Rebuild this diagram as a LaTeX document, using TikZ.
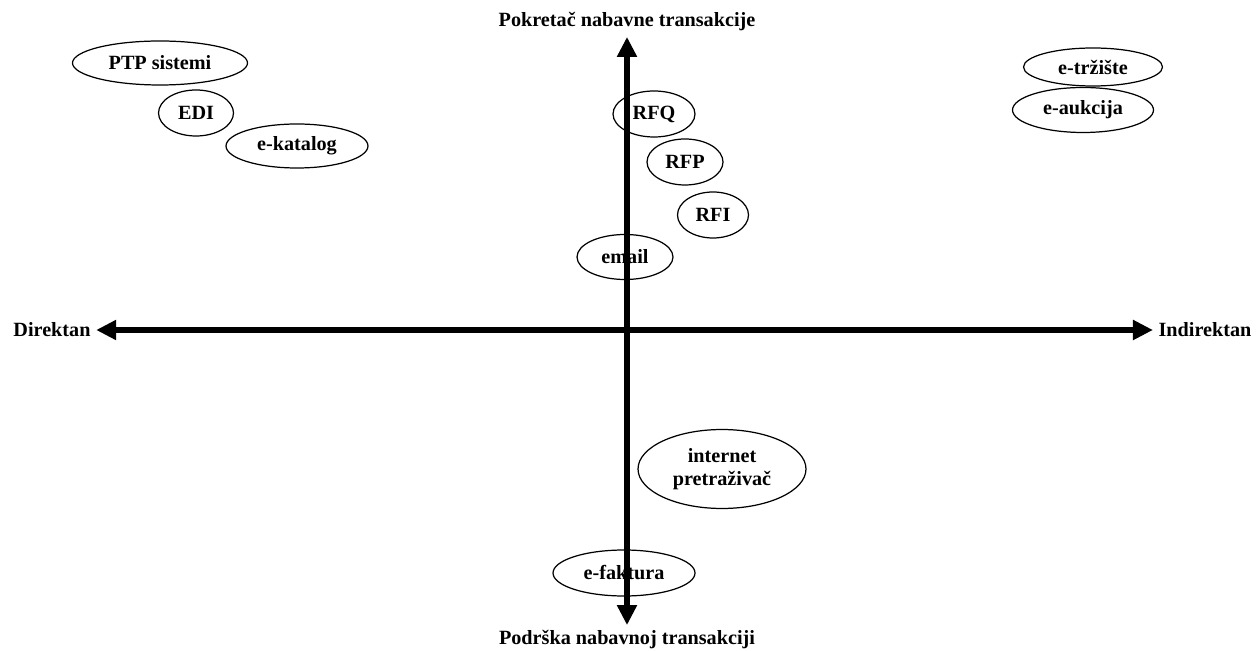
\documentclass[tikz,border=0pt]{standalone}
\usepackage{fontspec}
\setmainfont{Liberation Serif}
\usetikzlibrary{shapes.geometric,arrows.meta}

\begin{document}
\begin{tikzpicture}[x=0.02cm,y=-0.02cm,
  font=\fontsize{11.5}{13}\selectfont\bfseries,
  tool/.style={draw,ellipse,line width=0.7pt,inner sep=0pt,align=center},
  axis/.style={line width=3.4pt,{Triangle[length=0.4cm,width=0.38cm]}-{Triangle[length=0.4cm,width=0.38cm]}},
  lbl/.style={inner sep=3pt}]
  \useasboundingbox (0,0) rectangle (1257,651);

  % direktni alati
  \node[tool,minimum width=3.5cm,minimum height=0.88cm]  (ptp)  at (160,63)  {PTP sistemi};
  \node[tool,minimum width=1.5cm,minimum height=0.92cm]  (edi)  at (196,113) {EDI};
  \node[tool,minimum width=2.84cm,minimum height=0.88cm] (kat)  at (297,146) {e-katalog};
  % oko ose
  \node[tool,minimum width=1.64cm,minimum height=0.92cm] (rfq)  at (654,114) {RFQ};
  \node[tool,minimum width=1.52cm,minimum height=0.92cm] (rfp)  at (685,162) {RFP};
  \node[tool,minimum width=1.42cm,minimum height=0.92cm] (rfi)  at (713,215) {RFI};
  \node[tool,minimum width=1.92cm,minimum height=0.9cm]  (mail) at (625,257) {email};
  % indirektni alati
  \node[tool,minimum width=2.78cm,minimum height=0.76cm] (trz)  at (1093,67)  {e-tržište};
  \node[tool,minimum width=2.82cm,minimum height=0.9cm]  (auk)  at (1083,110) {e-aukcija};
  % podrska
  \node[tool,minimum width=3.36cm,minimum height=1.58cm] (net)  at (722,469) {internet\\pretraživač};
  \node[tool,minimum width=2.84cm,minimum height=0.92cm] (fak)  at (624,573) {e-faktura};

  % ose
  \node[lbl] (pok) at (627,22)  {Pokretač nabavne transakcije};
  \node[lbl] (pod) at (627,640) {Podrška nabavnoj transakciji};
  \node[lbl] (dir) at (52,330)  {Direktan};
  \node[lbl] (ind) at (1205,330) {Indirektan};
  \draw[axis] (pok) -- (pod);
  \draw[axis] (dir) -- (ind);
\end{tikzpicture}
\end{document}
